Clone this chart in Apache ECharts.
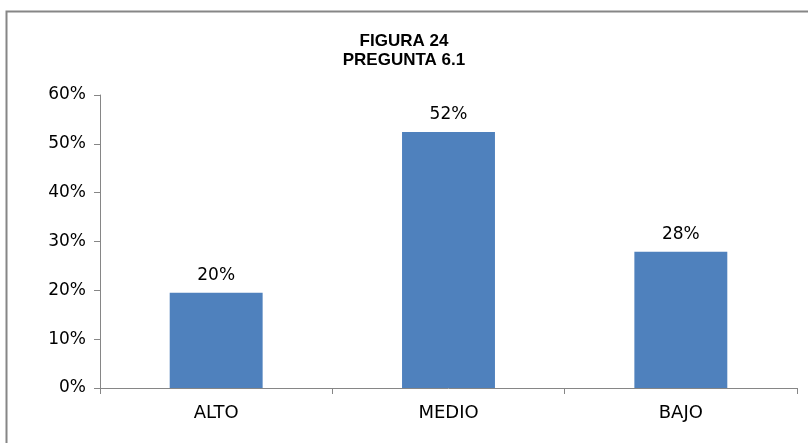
<!DOCTYPE html>
<html>
<head>
<meta charset="utf-8">
<script src="https://cdn.jsdelivr.net/npm/echarts@6/dist/echarts.min.js"></script>
<style>
  html, body { margin: 0; padding: 0; background: #fff; }
  #chart { width: 808px; height: 443px; }
</style>
</head>
<body>
<div id="chart"></div>
<script>
// data
var categories = ["ALTO", "MEDIO", "BAJO"];
var values = [19.5, 52.4, 27.9];
var yTicks = [0, 10, 20, 30, 40, 50, 60];

var font = "'DejaVu Sans', Verdana, sans-serif";
var titleFont = "'Liberation Sans', Arial, sans-serif";
var axisColor = "#868686";

var chart = echarts.init(document.getElementById("chart"));

chart.setOption({
  backgroundColor: "#ffffff",
  animation: false,
  title: {
    text: "FIGURA 24\nPREGUNTA 6.1",
    left: "center",
    top: 27,
    textStyle: {
      fontFamily: titleFont,
      fontSize: 17,
      fontWeight: "bold",
      color: "#000",
      lineHeight: 19
    }
  },
  graphic: [
    {
      type: "rect",
      shape: { x: 6.5, y: 11.5, width: 830, height: 460 },
      style: { fill: "none", stroke: "#868686", lineWidth: 2 },
      silent: true
    }
  ],
  grid: {
    left: 100,
    right: 11,
    top: 95,
    bottom: 55
  },
  xAxis: {
    type: "category",
    data: categories,
    axisLine: { lineStyle: { color: axisColor, width: 1 } },
    axisTick: { show: true, alignWithLabel: false, length: 6, lineStyle: { color: axisColor } },
    axisLabel: {
      fontFamily: font,
      fontSize: 18,
      color: "#000",
      margin: 16
    }
  },
  yAxis: {
    type: "value",
    min: yTicks[0],
    max: yTicks[yTicks.length - 1],
    interval: 10,
    axisLine: { show: true, lineStyle: { color: axisColor, width: 1 } },
    axisTick: { show: true, length: 6, lineStyle: { color: axisColor } },
    splitLine: { show: false },
    axisLabel: {
      fontFamily: font,
      fontSize: 17,
      color: "#000",
      margin: 14,
      formatter: function (v) { return v + "%"; }
    }
  },
  series: [
    {
      type: "bar",
      data: values,
      barWidth: "40%",
      itemStyle: { color: "#4f81bd" },
      label: {
        show: true,
        position: "top",
        distance: 9,
        fontFamily: font,
        fontSize: 17,
        color: "#000",
        formatter: function (p) { return Math.round(p.value) + "%"; }
      }
    }
  ]
});
</script>
</body>
</html>
